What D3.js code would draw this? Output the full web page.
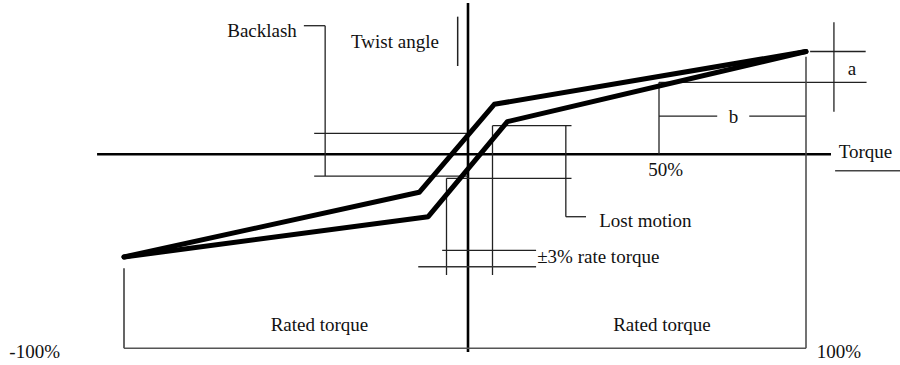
<!DOCTYPE html>
<html>
<head>
<meta charset="utf-8">
<script src="https://cdn.jsdelivr.net/npm/d3@7"></script>
<style>
  body { margin: 0; background: #fff; }
  svg { display: block; }
  text { font-family: "Liberation Serif", "Times New Roman", serif; font-size: 19px; fill: #111; }
</style>
</head>
<body>
<svg id="chart" width="900" height="365"></svg>
<script>
// Torque (% of rated torque) vs twist angle (relative units): hysteresis loop
const upperTorque = [-100, -11.2, 3.5, 100];
const upperTwist  = [-100, -37.0, 48.6, 100];
const lowerTorque = [-100, -8.5, 7.2, 100];
const lowerTwist  = [-100, -60.8, 31.7, 100];

const torqueTicks = [-100, 50, 100];
const torqueTickLabels = ["-100%", "50%", "100%"];

const rateBand = [-3, 3];               // ±3% of rated torque
const backlashLevels = [20.4, -21.2];   // twist at the backlash band edges
const lostMotionLevels = [27.8, -23.4]; // twist at the lost motion band edges
const halfTorque = 50;                  // torque used for the b span
const halfTwist = 70.0;                 // twist reached at half torque
const ratedTwist = 100;                 // twist reached at rated torque

const svg = d3.select("#chart");

// schematic torque axis: the ±3% band around zero is drawn expanded
const x = d3.scaleLinear()
  .domain([-100, -3, 0, 3, 50, 100])
  .range([124, 446.5, 468, 492.5, 659, 806]);
const y = d3.scaleLinear().domain([-100, 100]).range([257, 51.5]);

const g = svg.append("g");

function seg(x1, y1, x2, y2, w = 1.3, color = "#222") {
  g.append("line")
    .attr("x1", x(x1)).attr("y1", y(y1))
    .attr("x2", x(x2)).attr("y2", y(y2))
    .attr("stroke", color).attr("stroke-width", w);
}

// axes
seg(-108.1, 0, 108.5, 0, 2.6, "#000");
seg(0, 147.2, 0, -192.5, 2.6, "#000");

// backlash band
const [bkTop, bkBot] = backlashLevels;
seg(-42.8, bkTop, 0, bkTop);
seg(-42.8, bkBot, 0, bkBot);
seg(-39.5, bkBot, -39.5, 125.1);
seg(-45.9, 125.1, -39.5, 125.1);

// twist angle marker
seg(-1.44, 133.9, -1.44, 85.9, 1.5);

// lost motion band
const [lmTop, lmBot] = lostMotionLevels;
seg(rateBand[1], lmTop, 25.3, lmTop);
seg(rateBand[0], lmBot, 25.3, lmBot);
seg(23.7, lmTop, 23.7, -60.8);
seg(23.7, -60.8, 29.4, -60.8);

// ±3% rate torque band
seg(rateBand[0], lmBot, rateBand[0], -117.5);
seg(rateBand[1], lmTop, rateBand[1], -117.5);
seg(-4.3, -93.5, 15.3, -93.5);
seg(-11.5, -109.4, 15.3, -109.4, 1.5, "#333");

// b span (half torque to rated torque)
seg(halfTorque, halfTwist, 120.6, halfTwist);
seg(halfTorque, 0, halfTorque, halfTwist);
seg(halfTorque, 37.2, 69.8, 37.2);
seg(80.7, 37.2, 100, 37.2);

// a span (twist between half and rated torque)
seg(101.4, ratedTwist, 120.3, ratedTwist);
seg(109.5, 128.4, 109.5, 41.4);

// rated torque brackets
seg(100, 94.9, 100, -188.9, 1.5, "#444");
seg(-100, -111, -100, -188.9, 1.8, "#555");
seg(-100, -188.9, 100, -188.9, 1.5, "#555");

// underline below the torque label
seg(109.9, -16, 132, -16, 1.5, "#444");

// hysteresis curves
const line = d3.line().x(d => x(d[0])).y(d => y(d[1]));
const upper = d3.zip(upperTorque, upperTwist);
const lower = d3.zip(lowerTorque, lowerTwist);
[upper, lower].forEach(pts => {
  g.append("path")
    .attr("d", line(pts))
    .attr("fill", "none")
    .attr("stroke", "#000")
    .attr("stroke-width", 5)
    .attr("stroke-linejoin", "round")
    .attr("stroke-linecap", "round");
});

// text labels
function label(txt, tx, ty, anchor = "start", dx = 0) {
  g.append("text")
    .attr("x", x(tx) + dx).attr("y", y(ty))
    .attr("text-anchor", anchor)
    .text(txt);
}
label("Backlash", -48, 114.1, "end");
label("Twist angle", -31.7, 103.4);
label("Lost motion", 33.1, -70.8);
label("\u00B13% rate torque", 15.6, -106.1);
label("Rated torque", -41.2, -172.0, "middle");
label("Rated torque", 51.0, -172.0, "middle");
label("a", 114.2, 77.1);
label("b", 75.3, 30.1, "middle");
label("Torque", 111.1, -3.9);

// torque tick labels
label(torqueTickLabels[0], torqueTicks[0], -198.3, "end", -64);
label(torqueTickLabels[1], torqueTicks[1], -21.2, "start", -10.7);
label(torqueTickLabels[2], torqueTicks[2], -198.3, "start", 10.7);
</script>
</body>
</html>
